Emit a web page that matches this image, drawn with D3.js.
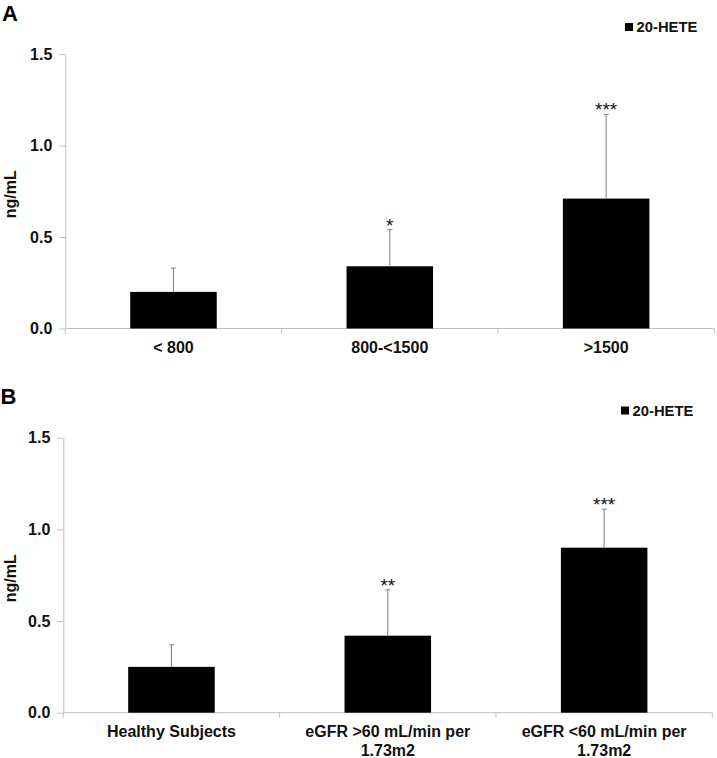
<!DOCTYPE html>
<html>
<head>
<meta charset="utf-8">
<script src="https://cdn.jsdelivr.net/npm/d3@7"></script>
<style>
  html, body { margin: 0; padding: 0; background: #fff; }
  svg { display: block; }
  text { font-family: "Liberation Sans", Arial, Helvetica, sans-serif; }
</style>
</head>
<body>
<svg id="chart" width="717" height="758"></svg>
<script>
// ---- Data ----
const yTicks = [0, 0.5, 1.0, 1.5];
const seriesName = "20-HETE";
const unitLabel = "ng/mL";

const categoriesA = ["< 800", "800-<1500", ">1500"];
const meansA = [0.20, 0.34, 0.71];
const errA = [0.13, 0.20, 0.46];
const starsA = ["", "*", "***"];

const categoriesB = ["Healthy Subjects", "eGFR >60 mL/min per 1.73m2", "eGFR <60 mL/min per 1.73m2"];
const meansB = [0.25, 0.42, 0.90];
const errB = [0.12, 0.25, 0.21];
const starsB = ["", "**", "***"];

// ---- Drawing ----
const svg = d3.select("#chart");
const axisColor = "#bfbfbf";
const errColor = "#7f7f7f";

function panel(opts) {
  const { letter, letterX, letterY, cats, means, errs, stars, x0, x1, yBottom, yTop, legX, legY } = opts;
  const g = svg.append("g");
  const x = d3.scaleBand().domain(cats).range([x0, x1]).padding(0);
  const y = d3.scaleLinear().domain([0, 1.5]).range([yBottom, yTop]);
  const bw = x.bandwidth() * 0.4;

  // panel letter
  g.append("text").attr("x", letterX).attr("y", letterY)
    .attr("font-size", 22).attr("font-weight", "bold").attr("fill", "#000").text(letter);

  // y axis
  const yAxis = d3.axisLeft(y).tickValues(yTicks).tickFormat(d3.format(".1f"))
    .tickSize(6).tickSizeOuter(0).tickPadding(7);
  const ya = g.append("g").attr("transform", `translate(${x0},0)`).call(yAxis);
  ya.select(".domain").attr("stroke", axisColor);
  ya.selectAll(".tick line").attr("stroke", axisColor);
  ya.selectAll(".tick text").attr("font-size", 16).attr("font-weight", "bold")
    .attr("fill", "#111").attr("font-family", '"Liberation Sans", Arial, sans-serif');

  // y title
  const midY = (yBottom + yTop) / 2 + 3;
  g.append("text").attr("transform", `translate(16,${midY}) rotate(-90)`)
    .attr("text-anchor", "middle").attr("font-size", 16).attr("font-weight", "bold")
    .attr("fill", "#111").text(unitLabel);

  // x axis
  g.append("line").attr("x1", x0).attr("x2", x1).attr("y1", yBottom).attr("y2", yBottom)
    .attr("stroke", axisColor);
  const bounds = cats.map(c => x(c)).concat([x1]);
  g.selectAll(".xtick").data(bounds).join("line").attr("class", "xtick")
    .attr("x1", d => d).attr("x2", d => d).attr("y1", yBottom).attr("y2", yBottom + 5)
    .attr("stroke", axisColor);

  // x labels (wrap before "1.73m2")
  cats.forEach(c => {
    const lines = c.split(/ (?=1\.73)/);
    const t = g.append("text").attr("text-anchor", "middle").attr("font-size", 16)
      .attr("font-weight", "bold").attr("fill", "#111");
    lines.forEach((ln, i) => {
      t.append("tspan").attr("x", x(c) + x.bandwidth() / 2).attr("y", yBottom + 24 + i * 19).text(ln);
    });
  });

  // bars
  g.selectAll(".bar").data(cats).join("rect").attr("class", "bar")
    .attr("x", (c) => x(c) + (x.bandwidth() - bw) / 2)
    .attr("y", (c, i) => y(means[i]))
    .attr("width", bw)
    .attr("height", (c, i) => y(0) - y(means[i]))
    .attr("fill", "#000");

  // error bars (upper only)
  cats.forEach((c, i) => {
    const cx = x(c) + x.bandwidth() / 2;
    const top = y(means[i] + errs[i]);
    g.append("line").attr("x1", cx).attr("x2", cx).attr("y1", y(means[i])).attr("y2", top)
      .attr("stroke", errColor).attr("stroke-width", 1);
    g.append("line").attr("x1", cx - 2.5).attr("x2", cx + 2.5).attr("y1", top).attr("y2", top)
      .attr("stroke", errColor).attr("stroke-width", 1);
    if (stars[i]) {
      g.append("text").attr("x", cx).attr("y", top + 2).attr("text-anchor", "middle")
        .attr("font-size", 19).attr("fill", "#111").text(stars[i]);
    }
  });

  // legend
  g.append("rect").attr("x", legX).attr("y", legY - 9).attr("width", 8).attr("height", 8).attr("fill", "#000");
  g.append("text").attr("x", legX + 11.5).attr("y", legY).attr("font-size", 14.8)
    .attr("font-weight", "bold").attr("fill", "#111").text(seriesName);
}

panel({ letter: "A", letterX: 2, letterY: 20.5, cats: categoriesA, means: meansA, errs: errA, stars: starsA,
        x0: 65.3, x1: 714.3, yBottom: 328.5, yTop: 54, legX: 625, legY: 32 });
panel({ letter: "B", letterX: 0.5, letterY: 404, cats: categoriesB, means: meansB, errs: errB, stars: starsB,
        x0: 63.3, x1: 712.3, yBottom: 712.7, yTop: 437.7, legX: 621, legY: 415.5 });
</script>
</body>
</html>
